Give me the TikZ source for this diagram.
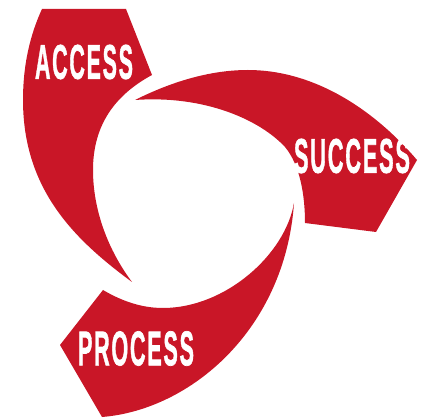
\documentclass[tikz,border=0pt]{standalone}
\usepackage{fontspec}
\setmainfont{Liberation Sans}
\newfontfamily\labelfont[LetterSpace=8,BoldFeatures={FakeBold=1.5}]{Liberation Sans}
\definecolor{brandred}{HTML}{C91627}
\tikzset{
  blade/.style={fill=brandred,draw=none},
  bladelabel/.style={text=white,inner sep=0pt,font=\labelfont\bfseries}
}
\newcommand{\fitlabel}[3]{\resizebox{#1pt}{#2pt}{#3}}
\begin{document}
\begin{tikzpicture}[x=1pt,y=-1pt]
\useasboundingbox (0,0) rectangle (436,419);
% ACCESS
\path[blade] (42,9) -- (126,9) -- (152,75)
  .. controls (115,95) and (93,125) .. (93,170)
  .. controls (93,210) and (108,250) .. (132,282)
  .. controls (75,240) and (23,190) .. (23,100)
  .. controls (23,65) and (30,35) .. (42,9) -- cycle;
% SUCCESS
\path[blade] (135,100)
  .. controls (165,85) and (205,70) .. (248,70)
  .. controls (310,70) and (370,105) .. (417,160)
  -- (376,232) -- (305,223)
  .. controls (305,195) and (300,165) .. (285,147)
  .. controls (260,120) and (205,95) .. (135,100) -- cycle;
% PROCESS
\path[blade] (294,203)
  .. controls (285,255) and (225,308) .. (163,308)
  .. controls (140,308) and (120,300) .. (103,290)
  -- (60,345) -- (102,417)
  .. controls (190,410) and (285,330) .. (294,203) -- cycle;
\node[bladelabel] (access) at (84,62) {\fitlabel{98}{34}{ACCESS}};
\node[bladelabel] (success) at (352,156) {\fitlabel{116}{34}{SUCCESS}};
\node[bladelabel] (process) at (136,348.5) {\fitlabel{116}{34}{PROCESS}};
\end{tikzpicture}
\end{document}
